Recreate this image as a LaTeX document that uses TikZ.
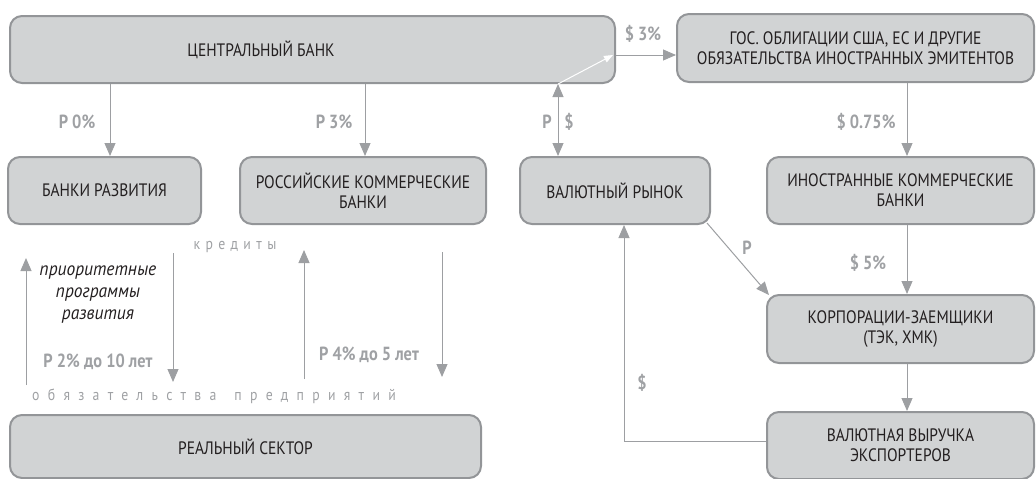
\documentclass[tikz,border=0pt]{standalone}
\usepackage{fontspec}
\setmainfont{PT Sans}[FakeStretch=0.86]
\newfontfamily\slantfont{PT Sans Italic}[FakeStretch=0.92]
\usetikzlibrary{arrows.meta}
\definecolor{boxfill}{HTML}{D1D3D4}
\definecolor{boxline}{HTML}{939598}
\definecolor{arrowgray}{HTML}{9D9FA2}
\definecolor{labelgray}{HTML}{9FA1A4}
\definecolor{textdark}{HTML}{231F20}
\begin{document}
\begin{tikzpicture}[x=1pt, y=-1pt,
    block/.style={draw=boxline, line width=2pt, fill=boxfill, rounded corners=12pt,
      text=textdark, align=center, inner sep=0pt, font=\fontsize{18}{20}\selectfont},
    flow/.style={draw=arrowgray, line width=1pt, -{Triangle[length=13pt, width=11pt]}},
    rate/.style={text=labelgray, inner sep=0pt, font=\bfseries\fontsize{19}{21}\selectfont},
    spaced/.style={text=labelgray, inner sep=0pt,
      font=\fontsize{16}{18}\selectfont\addfontfeatures{LetterSpace=34}}]
  \useasboundingbox (0,0) rectangle (1036,479);

  % Блоки
  \node[block, minimum width=605pt, minimum height=67pt] (cb) at (312.5,49.5) {};
  \node[text=textdark, inner sep=0pt, font=\fontsize{18}{20}\selectfont] (cbtext) at (261,50) {ЦЕНТРАЛЬНЫЙ БАНК};
  \node[block, minimum width=357pt, minimum height=68pt] (gov) at (855.5,48)
    {ГОС. ОБЛИГАЦИИ США, ЕС И ДРУГИЕ\\ОБЯЗАТЕЛЬСТВА ИНОСТРАННЫХ ЭМИТЕНТОВ};
  \node[block, minimum width=193pt, minimum height=67pt] (dev) at (104.5,190.5) {БАНКИ РАЗВИТИЯ};
  \node[block, minimum width=246pt, minimum height=67pt] (rcb) at (363,190.5) {РОССИЙСКИЕ КОММЕРЧЕСКИЕ\\БАНКИ};
  \node[block, minimum width=190pt, minimum height=67pt] (fx) at (615,190.5) {ВАЛЮТНЫЙ РЫНОК};
  \node[block, minimum width=267pt, minimum height=67pt] (fcb) at (900.5,190.5) {ИНОСТРАННЫЕ КОММЕРЧЕСКИЕ\\БАНКИ};
  \node[block, minimum width=267pt, minimum height=68pt] (corp) at (900.5,329) {КОРПОРАЦИИ-ЗАЕМЩИКИ\\(ТЭК, ХМК)};
  \node[block, minimum width=267pt, minimum height=67pt] (exp) at (900.5,445.5) {ВАЛЮТНАЯ ВЫРУЧКА\\ЭКСПОРТЕРОВ};
  \node[block, minimum width=471pt, minimum height=63pt] (real) at (245.5,446.5) {РЕАЛЬНЫЙ СЕКТОР};

  % Вертикали стрелок
  \coordinate (c1) at (110,0);
  \coordinate (c2) at (365,0);
  \coordinate (c3) at (558,0);
  \coordinate (c4) at (907,0);
  \coordinate (c5) at (624,0);
  \coordinate (r1) at (0,55);

  % Центральный банк
  \draw[flow] (cb.south -| c1) -- (dev.north -| c1);
  \draw[flow] (cb.south -| c2) -- (rcb.north -| c2);
  \draw[flow, {Triangle[length=13pt, width=11pt]}-{Triangle[length=13pt, width=11pt]}]
    (cb.south -| c3) -- (fx.north -| c3);
  \draw[flow] (cb.east |- r1) -- (gov.west |- r1);
  \draw[white, line width=1pt, -{Triangle[length=9pt, width=7pt]}]
    (cb.south -| c3) -- ([xshift=-3pt]cb.east |- r1);

  % Иностранная часть
  \draw[flow] (gov.south -| c4) -- (fcb.north -| c4);
  \draw[flow] (fcb.south -| c4) -- (corp.north -| c4);
  \draw[flow] (corp.south -| c4) -- (exp.north -| c4);
  \draw[flow] ([xshift=-4pt, yshift=2pt]fx.south east) -- ([xshift=3pt, yshift=-1pt]corp.north west);
  \draw[flow] ([yshift=4pt]exp.west) -- ([yshift=4pt]exp.west -| c5) -- (fx.south -| c5);

  % Кредиты и обязательства
  \coordinate (a1) at (26,385);  \coordinate (b1) at (26,258);
  \coordinate (a2) at (173,253); \coordinate (b2) at (173,382);
  \coordinate (a3) at (304,379); \coordinate (b3) at (304,250);
  \coordinate (a4) at (442,252); \coordinate (b4) at (442,377);
  \draw[flow] (a1) -- (b1);
  \draw[flow] (a2) -- (b2);
  \draw[flow] (a3) -- (b3);
  \draw[flow] (a4) -- (b4);

  % Подписи
  \node[rate] (l1) at (77,122) {Р 0\%};
  \node[rate] (l2) at (334,122) {Р 3\%};
  \node[rate] (l3) at (547,122) {Р};
  \node[rate] (l4) at (569,122) {\$};
  \node[rate] (l5) at (643,34) {\$ 3\%};
  \node[rate] (l6) at (866,122) {\$ 0.75\%};
  \node[rate] (l7) at (868,263) {\$ 5\%};
  \node[rate] (l8) at (747,248) {Р};
  \node[rate] (l9) at (642,383) {\$};
  \node[rate] (l10) at (98,362) {Р 2\% до 10 лет};
  \node[rate] (l11) at (369,355) {Р 4\% до 5 лет};
  \node[text=textdark, align=center, inner sep=0pt, font=\slantfont\fontsize{19}{22}\selectfont]
    (prog) at (98,295) {приоритетные\\программы\\развития};
  \node[spaced] (cred) at (235,247) {кредиты};
  \node[spaced, font=\fontsize{16}{18}\selectfont\addfontfeatures{LetterSpace=52}]
    (obl) at (214,396) {обязательства\hspace{6pt} предприятий};
\end{tikzpicture}
\end{document}
